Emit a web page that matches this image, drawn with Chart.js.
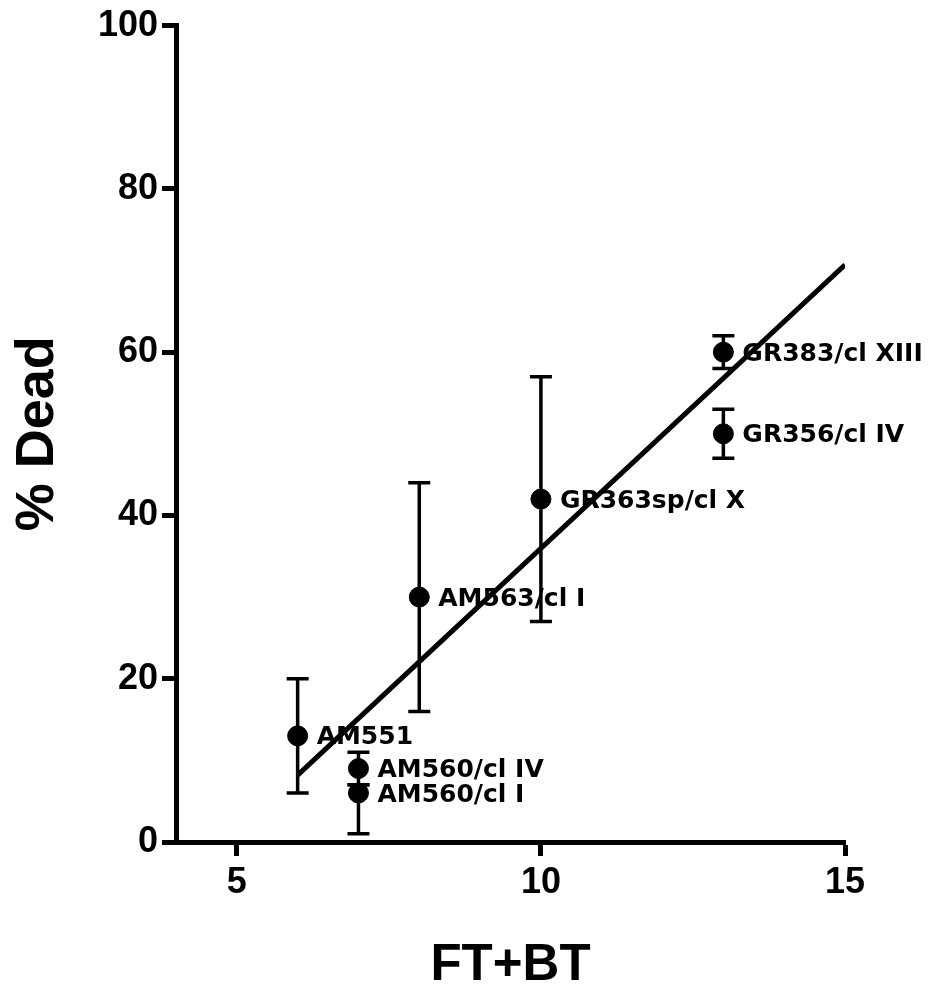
<!DOCTYPE html>
<html lang="en">
<head>
    <meta charset="UTF-8">
    <title>% Dead vs FT+BT</title>
    <script src="https://cdn.jsdelivr.net/npm/chart.js"></script>
    <style>
        body {
            margin: 0;
            background-color: #fff;
        }
        #chart-container {
            width: 935px;
            height: 985px;
        }
    </style>
</head>
<body>
    <div id="chart-container">
        <canvas id="myChart" width="935" height="985"></canvas>
    </div>
    <script>
        // strain labels and values
        const strains = ['AM551', 'AM560/cl IV', 'AM560/cl I', 'AM563/cl I', 'GR363sp/cl X', 'GR383/cl XIII', 'GR356/cl IV'];
        const ftbt = [6, 7, 7, 8, 10, 13, 13];
        const pctDead = [13, 9, 6, 30, 42, 60, 50];
        const errLow = [6, 7, 1, 16, 27, 58, 47];
        const errHigh = [20, 11, 7, 44, 57, 62, 53];

        // fitted line end points
        const fitX = [6, 15];
        const fitY = [8.2, 70.7];

        const xTicks = [5, 10, 15];
        const yTicks = [0, 20, 40, 60, 80, 100];

        const FONT = "'Liberation Sans', Arial, sans-serif";
        const LABEL_FONT = "bold 25px 'DejaVu Sans', sans-serif";

        // error bars + point labels, drawn through the chart scales
        const errorBars = {
            id: 'errorBars',
            beforeDatasetsDraw(chart) {
                const { ctx, scales: { x, y } } = chart;
                ctx.save();
                ctx.strokeStyle = '#000';
                ctx.lineWidth = 3.5;
                ftbt.forEach((v, i) => {
                    const px = x.getPixelForValue(v);
                    const lo = y.getPixelForValue(errLow[i]);
                    const hi = y.getPixelForValue(errHigh[i]);
                    ctx.beginPath();
                    ctx.moveTo(px, lo); ctx.lineTo(px, hi);
                    ctx.moveTo(px - 11, lo); ctx.lineTo(px + 11, lo);
                    ctx.moveTo(px - 11, hi); ctx.lineTo(px + 11, hi);
                    ctx.stroke();
                });
                // labels go under the fit line
                ctx.fillStyle = '#000';
                ctx.font = LABEL_FONT;
                ctx.textAlign = 'left';
                ctx.textBaseline = 'middle';
                strains.forEach((s, i) => {
                    ctx.fillText(s, x.getPixelForValue(ftbt[i]) + 19, y.getPixelForValue(pctDead[i]) + 2);
                });
                ctx.restore();
            }
        };

        const ctx = document.getElementById('myChart').getContext('2d');
        const myChart = new Chart(ctx, {
            type: 'scatter',
            data: {
                datasets: [{
                    type: 'line',
                    data: fitX.map((v, i) => ({ x: v, y: fitY[i] })),
                    borderColor: '#000',
                    borderWidth: 5,
                    pointRadius: 0,
                    fill: false
                }, {
                    data: ftbt.map((v, i) => ({ x: v, y: pctDead[i] })),
                    backgroundColor: '#000',
                    borderColor: '#000',
                    pointRadius: 10,
                    pointHoverRadius: 10
                }]
            },
            options: {
                responsive: false,
                animation: false,
                events: [],
                layout: {
                    padding: { top: 23, right: 90, left: 0, bottom: 0 }
                },
                scales: {
                    x: {
                        type: 'linear',
                        min: 4,
                        max: 15,
                        afterFit: (scale) => { scale.height = 143; },
                        afterBuildTicks: (scale) => { scale.ticks = xTicks.map(v => ({ value: v })); },
                        border: { display: true, color: '#000', width: 5 },
                        grid: {
                            drawOnChartArea: false,
                            drawTicks: true,
                            tickLength: 14,
                            tickWidth: 5,
                            tickColor: '#000'
                        },
                        ticks: {
                            color: '#000',
                            padding: 5,
                            maxRotation: 0,
                            font: { family: FONT, size: 36, weight: 'bold' }
                        },
                        title: {
                            display: true,
                            text: 'FT+BT',
                            color: '#000',
                            padding: 0,
                            font: { family: FONT, size: 51, weight: 'bold', lineHeight: 0.76 }
                        }
                    },
                    y: {
                        min: 0,
                        max: 100,
                        afterFit: (scale) => { scale.width = 176; },
                        afterBuildTicks: (scale) => { scale.ticks = yTicks.map(v => ({ value: v })); },
                        border: { display: true, color: '#000', width: 5 },
                        grid: {
                            drawOnChartArea: false,
                            drawTicks: true,
                            tickLength: 14,
                            tickWidth: 5,
                            tickColor: '#000'
                        },
                        ticks: {
                            color: '#000',
                            padding: 4,
                            font: { family: FONT, size: 36, weight: 'bold' }
                        },
                        title: {
                            display: true,
                            text: '% Dead',
                            color: '#000',
                            padding: { top: 11, bottom: 0 },
                            font: { family: FONT, size: 54, weight: 'bold', lineHeight: 1 }
                        }
                    }
                },
                plugins: {
                    legend: { display: false },
                    tooltip: { enabled: false }
                }
            },
            plugins: [errorBars]
        });
    </script>
</body>
</html>
